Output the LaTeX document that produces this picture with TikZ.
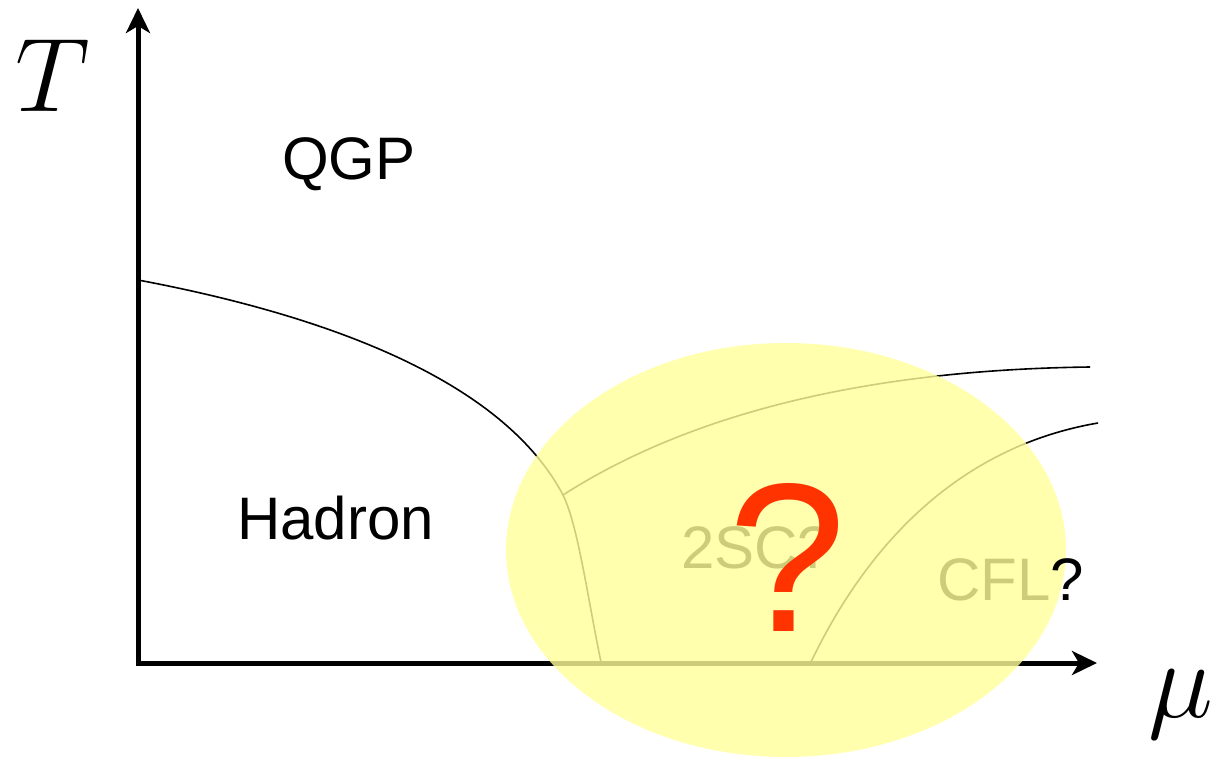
\RequirePackage{fix-cm}
\documentclass[tikz,border=0pt]{standalone}
\usepackage{fontspec}
\setmainfont{Liberation Sans}
\usetikzlibrary{arrows.meta,positioning}
\definecolor{haze}{RGB}{255,255,153}
\definecolor{qred}{RGB}{255,51,0}

\begin{document}
\begin{tikzpicture}[x=1pt,y=-1pt,
  axis/.style={line width=5pt,{Stealth[length=25pt,width=24pt,inset=7pt]}-{Stealth[length=25pt,width=24pt,inset=7pt]}},
  border/.style={line width=1.6pt},
  phase/.style={anchor=base west,inner sep=0pt,font=\fontsize{60}{72}\selectfont}]
\path[use as bounding box] (0,0) rectangle (1215,759);
% axes
\coordinate (o) at (138,663);
\coordinate (tmax) at (138,8);
\coordinate (mumax) at (1097,663);
\draw[axis] (tmax) -- (o) -- (mumax);
\node[anchor=base,inner sep=0pt,font=\fontsize{105}{120}\selectfont] (tlab) at (53,112) {$T$};
\node[anchor=base west,inner sep=0pt,font=\fontsize{110}{130}\selectfont] (mulab) at (1148,717) {$\mu$};
% phase boundaries
\coordinate (hq) at (138,280);
\coordinate (tp) at (563,495);
\coordinate (hx) at (601,662);
\coordinate (qend) at (1090,367);
\coordinate (cx) at (811,662);
\coordinate (cend) at (1098,423);
\draw[border] (hq) .. controls (340,318) and (505,385) .. (tp)
  .. controls (578,525) and (588,600) .. (hx);
\draw[border] (tp) .. controls (680,420) and (850,370) .. (qend);
\draw[border] (cx) .. controls (855,570) and (940,450) .. (cend);
% phases
\node[phase] (qgp) at (282,180) {QGP};
\node[phase] (hadron) at (237,539) {Hadron};
\node[phase] (tsc) at (681,568) {2SC?};
\node[phase] (cfl) at (937,600) {CFL};
% unknown region
\fill[haze,fill opacity=0.8] (786,550) ellipse [x radius=280pt,y radius=207pt];
\node[phase,base right=0pt of cfl] (cflq) {?};
\node[anchor=base west,inner sep=0pt,text=qred,font=\fontsize{212}{250}\selectfont] (unknown) at (728,631) {?};
\end{tikzpicture}
\end{document}
